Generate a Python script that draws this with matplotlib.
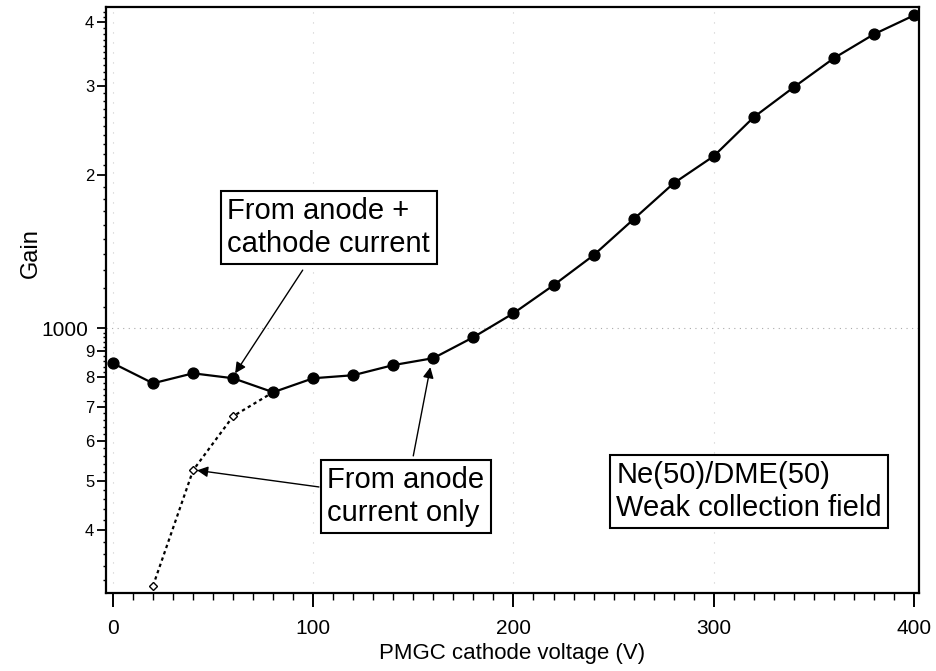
import matplotlib
matplotlib.use('Agg')
import matplotlib.pyplot as plt
from matplotlib.ticker import FixedLocator, NullFormatter, FixedFormatter

plt.rcParams['font.family'] = ['Liberation Sans', 'DejaVu Sans']

# anode + cathode current
voltage = [0, 20, 40, 60, 80, 100, 120, 140, 160, 180, 200, 220, 240, 260,
           280, 300, 320, 340, 360, 380, 400]
gain_total = [853, 779, 815, 797, 748, 797, 808, 846, 873, 960, 1070, 1215,
              1392, 1639, 1929, 2181, 2603, 2982, 3401, 3791, 4130]

# anode current only
voltage_anode = [20, 40, 60, 80]
gain_anode = [311, 525, 671, 748]

ytick_vals = [400, 500, 600, 700, 800, 900, 1000, 2000, 3000, 4000]
ytick_labels = ['4', '5', '6', '7', '8', '9', '1000', '2', '3', '4']

fig = plt.figure(figsize=(9.36, 6.71), dpi=100)
ax = fig.add_axes([0.1132, 0.1162, 0.8686, 0.8734])

ax.plot(voltage_anode, gain_anode, color='black', ls=(0, (1.5, 1.5)), lw=1.6,
        marker='D', ms=4.5, mfc='white', mec='black', mew=1.0, zorder=3)
ax.plot(voltage, gain_total, color='black', lw=1.6, marker='o', ms=7.8,
        mfc='black', mec='black', zorder=4)

ax.set_yscale('log')
ax.set_xlim(-3.5, 402.5)
ax.set_ylim(301, 4290)

ax.yaxis.set_major_locator(FixedLocator(ytick_vals))
ax.yaxis.set_major_formatter(FixedFormatter(ytick_labels))
fine = [v for v in range(300, 1000, 20)] + [v for v in range(1000, 4300, 100)]
ax.yaxis.set_minor_locator(FixedLocator(fine))
ax.yaxis.set_minor_formatter(NullFormatter())

ax.set_xticks([0, 100, 200, 300, 400])
ax.set_xticks(range(0, 401, 10), minor=True)

ax.tick_params(axis='y', which='major', direction='out', length=6.5, width=1.3,
               labelsize=12, pad=2)
ax.tick_params(axis='y', which='minor', direction='out', length=2.5, width=1.0)
ax.tick_params(axis='x', which='major', direction='out', length=10, width=1.4,
               labelsize=15, pad=9)
ax.tick_params(axis='x', which='minor', direction='out', length=5, width=1.0)

# the 1000 tick is longer and labelled larger
for val, tk in zip(ytick_vals, ax.yaxis.get_major_ticks()):
    if val == 1000:
        tk.tick1line.set_markersize(10)
        tk.set_pad(6)
        tk.label1.set_fontsize(15)

for s in ax.spines.values():
    s.set_linewidth(1.6)

# faint dotted reference lines
ax.axhline(1000, color='#aaaaaa', ls=(0, (1, 4)), lw=0.8, zorder=1)
for xv in [0, 100, 200, 300]:
    ax.axvline(xv, color='#cccccc', ls=(0, (1, 8)), lw=0.8, zorder=1)

ax.set_xlabel('PMGC cathode voltage (V)', fontsize=16)
ax.xaxis.set_label_coords(0.5, -0.085)
ax.set_ylabel('Gain', fontsize=17)
ax.yaxis.set_label_coords(-0.079, 0.58)

box = dict(boxstyle='square,pad=0.22', fc='white', ec='black', lw=1.5)
txt = dict(transform=ax.transAxes, fontsize=21, ha='center', va='center',
           multialignment='left', bbox=box, linespacing=1.2)
ax.text(0.274, 0.624, 'From anode +\ncathode current', **txt)
ax.text(0.369, 0.1647, 'From anode\ncurrent only', **txt)
ax.text(0.791, 0.173, 'Ne(50)/DME(50)\nWeak collection field', **txt)

arrow = dict(arrowstyle='-|>', color='black', lw=1.0, mutation_scale=16,
             shrinkA=0, shrinkB=0)
ax.annotate('', xy=(61, 815), xycoords='data', xytext=(0.242, 0.551),
            textcoords='axes fraction', arrowprops=arrow)
ax.annotate('', xy=(42, 525), xycoords='data', xytext=(0.262, 0.181),
            textcoords='axes fraction', arrowprops=arrow)
ax.annotate('', xy=(158.5, 838), xycoords='data', xytext=(0.378, 0.234),
            textcoords='axes fraction', arrowprops=arrow)

fig.savefig('out.png', dpi=100)
